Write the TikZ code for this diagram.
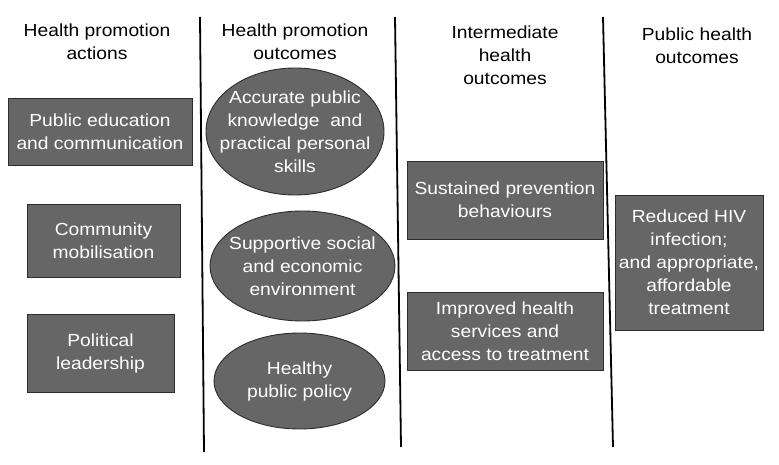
\documentclass[tikz,border=0pt]{standalone}
\usepackage{fontspec}
\setmainfont{Liberation Sans}[FakeStretch=1.1]
\usetikzlibrary{shapes.geometric}
\definecolor{boxgray}{RGB}{102,102,102}
\definecolor{edgegray}{RGB}{45,45,45}
\tikzset{
  txt/.style={font=\fontsize{17.5}{23}\selectfont, align=center, inner sep=0pt},
  head/.style={txt, text=black, anchor=north},
  box/.style={txt, draw=edgegray, line width=0.9pt, fill=boxgray, text=white, rectangle},
  oval/.style={draw=edgegray, line width=0.9pt, fill=boxgray, ellipse, inner sep=0pt},
  ovaltext/.style={txt, text=white},
  sep/.style={line width=1.8pt, black}
}
\begin{document}
\begin{tikzpicture}[x=1pt, y=-1pt]
\useasboundingbox (0,0) rectangle (779,465);
% separators
\coordinate (s1t) at (200,17); \coordinate (s1b) at (204,452);
\coordinate (s2t) at (395,17); \coordinate (s2b) at (401,447);
\coordinate (s3t) at (603,17); \coordinate (s3b) at (613,447);
\draw[sep] (s1t) -- (s1b);
\draw[sep] (s2t) -- (s2b);
\draw[sep] (s3t) -- (s3b);
% headers
\node[head] (h1) at (97,24) {Health promotion\\actions};
\node[head] (h2) at (295,24) {Health promotion\\outcomes};
\node[head] (h3) at (505,26) {Intermediate\\health\\outcomes};
\node[head] (h4) at (697,28) {Public health\\outcomes};
% column 1
\node[box, minimum width=184pt, minimum height=67pt] (a1) at (100,131.5) {Public education\\and communication};
\node[box, minimum width=153pt, minimum height=73pt] (a2) at (103.5,240.5) {Community\\mobilisation};
\node[box, minimum width=147pt, minimum height=78pt] (a3) at (100.5,353) {Political\\leadership};
% column 2
\node[oval, minimum width=178pt, minimum height=127pt] (b1) at (295,131.5) {};
\node[ovaltext] (b1t) at (b1.center) {Accurate public\\knowledge~ and\\practical personal\\skills};
\node[oval, minimum width=185pt, minimum height=110pt] (b2) at (302.5,266) {};
\node[ovaltext] (b2t) at (b2.center) {Supportive social\\and economic\\environment};
\node[oval, minimum width=171pt, minimum height=96pt] (b3) at (299.5,381) {};
\node[ovaltext] (b3t) at (b3.center) {Healthy\\public policy};
% column 3
\node[box, minimum width=196pt, minimum height=78pt] (c1) at (505,200) {Sustained prevention\\behaviours};
\node[box, minimum width=196pt, minimum height=78pt] (c2) at (505,331) {Improved health\\services and\\access to treatment};
% column 4
\node[box, minimum width=148pt, minimum height=135pt] (d1) at (689,262.5) {Reduced HIV\\infection;\\and appropriate,\\affordable\\treatment};
\end{tikzpicture}
\end{document}
